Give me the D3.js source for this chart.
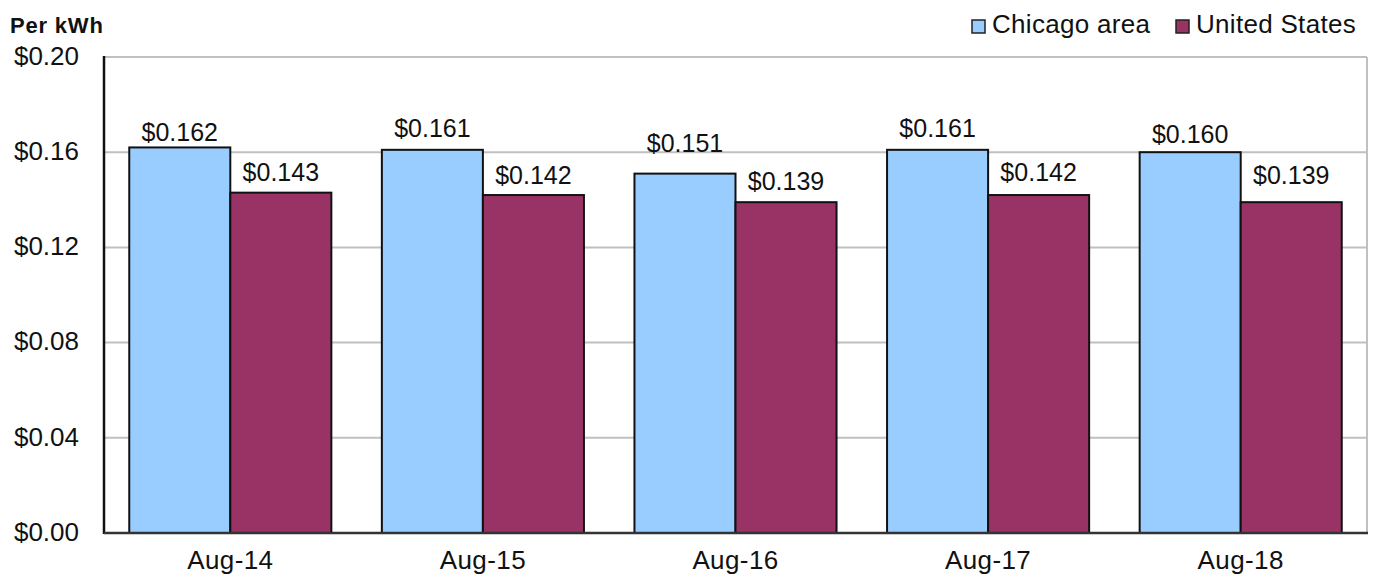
<!DOCTYPE html>
<html>
<head>
<meta charset="utf-8">
<script src="https://cdn.jsdelivr.net/npm/d3@7"></script>
<style>
  body { margin: 0; background: #fff; }
  text { font-family: "Liberation Sans", Arial, sans-serif; fill: #111; }
</style>
</head>
<body>
<svg class="chart" width="1374" height="578"></svg>
<script>
const months = ['Aug-14', 'Aug-15', 'Aug-16', 'Aug-17', 'Aug-18'];
const chicago = [0.162, 0.161, 0.151, 0.161, 0.160];
const us = [0.143, 0.142, 0.139, 0.142, 0.139];
const seriesNames = ['Chicago area', 'United States'];
const seriesColors = ['#99ccff', '#993366'];
const yTicks = [0, 0.04, 0.08, 0.12, 0.16, 0.20];

// label nudges (px above bar top), the labels were placed by hand in the original
const chicagoNudge = [6, 13, 22, 13, 9];
const usNudge = [12, 11, 12, 14, 18];

const svg = d3.select('svg.chart');
const plotLeft = 104, plotRight = 1367, plotTop = 57, plotBottom = 533;

const x = d3.scaleBand().domain(months).range([plotLeft, plotRight]).paddingInner(0.2).paddingOuter(0.1);
const x1 = d3.scaleBand().domain(seriesNames).range([0, x.bandwidth()]);
const y = d3.scaleLinear().domain([0, 0.20]).range([plotBottom, plotTop]);

// gridlines
svg.append('g').selectAll('line')
    .data(yTicks.filter(d => d > 0))
    .join('line')
    .attr('x1', plotLeft).attr('x2', plotRight)
    .attr('y1', d => y(d)).attr('y2', d => y(d))
    .attr('stroke', '#c0c0c0').attr('stroke-width', 2);

// right border
svg.append('line')
    .attr('x1', plotRight).attr('x2', plotRight).attr('y1', plotTop).attr('y2', plotBottom)
    .attr('stroke', '#c0c0c0').attr('stroke-width', 2);

// y axis labels
svg.append('g').selectAll('text')
    .data(yTicks)
    .join('text')
    .attr('x', 79)
    .attr('y', d => y(d))
    .attr('dy', '0.3em')
    .attr('text-anchor', 'end')
    .attr('font-size', 26)
    .text(d => '$' + d.toFixed(2));

const rows = months.map((m, i) => ({
    month: m,
    values: [chicago[i], us[i]],
    nudges: [chicagoNudge[i], usNudge[i]]
}));

const groups = svg.append('g').selectAll('g')
    .data(rows)
    .join('g')
    .attr('transform', d => `translate(${x(d.month)},0)`);

groups.selectAll('rect')
    .data(d => d.values.map((v, j) => ({ name: seriesNames[j], value: v, color: seriesColors[j] })))
    .join('rect')
    .attr('x', d => x1(d.name))
    .attr('y', d => y(d.value))
    .attr('width', x1.bandwidth())
    .attr('height', d => plotBottom - y(d.value))
    .attr('fill', d => d.color)
    .attr('stroke', '#111')
    .attr('stroke-width', 2);

groups.selectAll('text')
    .data(d => d.values.map((v, j) => ({ name: seriesNames[j], value: v, nudge: d.nudges[j] })))
    .join('text')
    .attr('x', d => x1(d.name) + x1.bandwidth() / 2)
    .attr('y', d => y(d.value) - d.nudge)
    .attr('text-anchor', 'middle')
    .attr('font-size', 25)
    .text(d => '$' + d.value.toFixed(3));

// axes lines
svg.append('line')
    .attr('x1', plotLeft).attr('x2', plotLeft).attr('y1', plotTop - 1).attr('y2', plotBottom + 1)
    .attr('stroke', '#111').attr('stroke-width', 2.5);
svg.append('line')
    .attr('x1', plotLeft).attr('x2', plotRight + 1).attr('y1', plotBottom).attr('y2', plotBottom)
    .attr('stroke', '#333').attr('stroke-width', 2.5);

// x labels
svg.append('g').selectAll('text')
    .data(months)
    .join('text')
    .attr('x', d => x(d) + x.bandwidth() / 2)
    .attr('y', 569)
    .attr('text-anchor', 'middle')
    .attr('font-size', 26)
    .attr('letter-spacing', 0.4)
    .text(d => d);

// y title
svg.append('text')
    .attr('x', 10).attr('y', 33)
    .attr('font-size', 22)
    .attr('font-weight', 'bold')
    .attr('letter-spacing', 0.8)
    .text('Per kWh');

// legend
const legendX = [971, 1175];
const legend = svg.append('g').selectAll('g')
    .data(seriesNames)
    .join('g')
    .attr('transform', (d, i) => `translate(${legendX[i]},0)`);
legend.append('rect')
    .attr('x', 1).attr('y', 20)
    .attr('width', 13).attr('height', 13)
    .attr('fill', (d, i) => seriesColors[i])
    .attr('stroke', '#222').attr('stroke-width', 1.5);
legend.append('text')
    .attr('x', 21).attr('y', 33)
    .attr('font-size', 26)
    .attr('letter-spacing', 0.3)
    .text(d => d);
</script>
</body>
</html>
